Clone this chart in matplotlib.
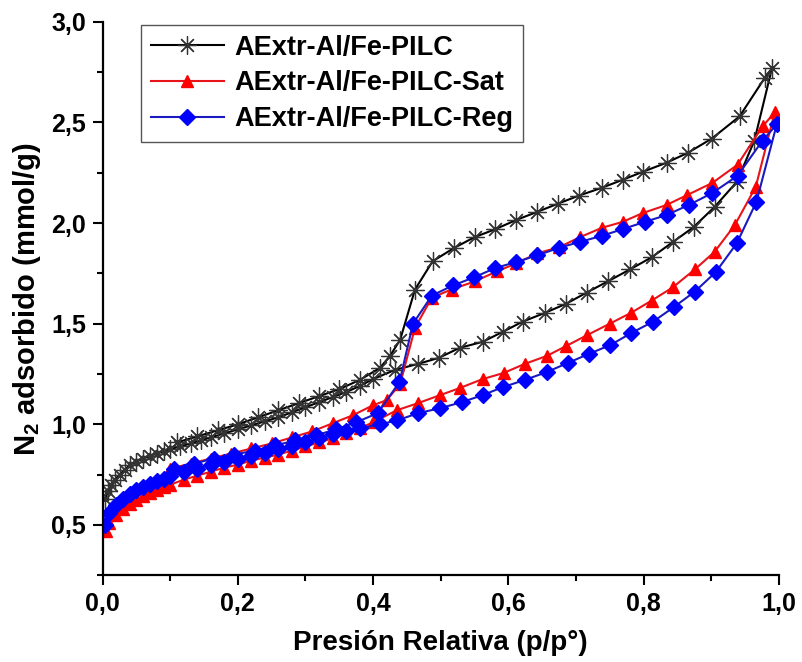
import matplotlib
matplotlib.use("Agg")
import matplotlib.pyplot as plt
from matplotlib.ticker import MultipleLocator, FuncFormatter

# --- isotermas N2: rama de adsorcion y rama de desorcion ---
p_pilc_ads = [0.004, 0.008, 0.013, 0.018, 0.025, 0.033, 0.041, 0.05, 0.06, 0.07,
              0.08, 0.09, 0.10, 0.115, 0.13, 0.145, 0.16, 0.18, 0.20, 0.22,
              0.24, 0.26, 0.28, 0.30, 0.32, 0.34, 0.36, 0.38, 0.40, 0.432,
              0.466, 0.497, 0.528, 0.562, 0.592, 0.621, 0.655, 0.686, 0.716, 0.747,
              0.780, 0.812, 0.843, 0.874, 0.905, 0.938, 0.964, 0.99]
v_pilc_ads = [0.63, 0.67, 0.70, 0.725, 0.75, 0.775, 0.80, 0.815, 0.83, 0.843,
              0.855, 0.866, 0.877, 0.89, 0.905, 0.92, 0.935, 0.955, 0.975, 0.995,
              1.015, 1.035, 1.06, 1.085, 1.11, 1.135, 1.16, 1.19, 1.225, 1.27,
              1.30, 1.33, 1.38, 1.41, 1.46, 1.51, 1.555, 1.60, 1.655, 1.71,
              1.77, 1.83, 1.905, 1.98, 2.08, 2.205, 2.41, 2.77]
p_pilc_des = [0.979, 0.942, 0.901, 0.866, 0.834, 0.799, 0.769, 0.738, 0.704, 0.673,
              0.643, 0.612, 0.581, 0.55, 0.519, 0.488, 0.462, 0.44, 0.425, 0.41,
              0.38, 0.35, 0.32, 0.29, 0.26, 0.23, 0.20, 0.17, 0.14, 0.11]
v_pilc_des = [2.72, 2.53, 2.42, 2.35, 2.30, 2.255, 2.215, 2.175, 2.136, 2.096,
              2.056, 2.016, 1.97, 1.93, 1.875, 1.81, 1.67, 1.42, 1.34, 1.28,
              1.22, 1.175, 1.14, 1.105, 1.07, 1.035, 1.0, 0.97, 0.94, 0.91]

p_sat_ads = [0.005, 0.01, 0.02, 0.03, 0.04, 0.05, 0.06, 0.07, 0.08, 0.09,
             0.10, 0.12, 0.14, 0.16, 0.18, 0.20, 0.22, 0.24, 0.26, 0.28,
             0.30, 0.32, 0.34, 0.36, 0.38, 0.40, 0.435, 0.467, 0.499, 0.528,
             0.562, 0.593, 0.624, 0.657, 0.686, 0.717, 0.75, 0.782, 0.812, 0.843,
             0.876, 0.905, 0.935, 0.966, 0.994]
v_sat_ads = [0.47, 0.51, 0.55, 0.58, 0.605, 0.625, 0.645, 0.66, 0.675, 0.69,
             0.70, 0.725, 0.745, 0.765, 0.785, 0.80, 0.82, 0.835, 0.85, 0.87,
             0.89, 0.91, 0.93, 0.955, 0.98, 1.01, 1.07, 1.106, 1.145, 1.18,
             1.225, 1.255, 1.30, 1.34, 1.39, 1.444, 1.50, 1.555, 1.615, 1.68,
             1.77, 1.857, 1.99, 2.18, 2.55]
p_sat_des = [0.976, 0.939, 0.902, 0.865, 0.834, 0.799, 0.769, 0.738, 0.706, 0.675,
             0.643, 0.612, 0.583, 0.55, 0.516, 0.487, 0.462, 0.44, 0.42, 0.40,
             0.37, 0.34, 0.31, 0.28, 0.25, 0.22, 0.19, 0.16, 0.13, 0.10]
v_sat_des = [2.48, 2.29, 2.20, 2.14, 2.09, 2.05, 2.006, 1.976, 1.93, 1.88,
             1.85, 1.80, 1.76, 1.71, 1.67, 1.63, 1.48, 1.20, 1.12, 1.095,
             1.045, 1.005, 0.965, 0.935, 0.905, 0.88, 0.855, 0.83, 0.805, 0.78]

p_reg_ads = [0.004, 0.01, 0.02, 0.03, 0.04, 0.05, 0.06, 0.07, 0.08, 0.09,
             0.10, 0.12, 0.14, 0.16, 0.18, 0.20, 0.22, 0.24, 0.26, 0.28,
             0.30, 0.32, 0.34, 0.36, 0.38, 0.41, 0.436, 0.467, 0.499, 0.531,
             0.562, 0.592, 0.624, 0.657, 0.688, 0.719, 0.751, 0.782, 0.814, 0.845,
             0.876, 0.907, 0.938, 0.967, 0.997]
v_reg_ads = [0.50, 0.56, 0.60, 0.63, 0.655, 0.675, 0.69, 0.705, 0.72, 0.73,
             0.745, 0.765, 0.78, 0.80, 0.815, 0.83, 0.845, 0.86, 0.875, 0.89,
             0.91, 0.93, 0.95, 0.965, 0.98, 1.00, 1.02, 1.056, 1.08, 1.11,
             1.145, 1.185, 1.22, 1.26, 1.305, 1.35, 1.394, 1.454, 1.51, 1.583,
             1.66, 1.757, 1.90, 2.106, 2.49]
p_reg_des = [0.976, 0.939, 0.902, 0.867, 0.834, 0.802, 0.769, 0.738, 0.706, 0.675,
             0.643, 0.612, 0.581, 0.549, 0.518, 0.487, 0.459, 0.439, 0.407, 0.375,
             0.345, 0.315, 0.285, 0.255, 0.225, 0.195, 0.165, 0.135, 0.105]
v_reg_des = [2.41, 2.235, 2.15, 2.09, 2.04, 2.006, 1.97, 1.936, 1.907, 1.877,
             1.84, 1.807, 1.777, 1.73, 1.69, 1.64, 1.50, 1.21, 1.056, 1.01,
             0.975, 0.945, 0.92, 0.895, 0.87, 0.85, 0.83, 0.805, 0.78]

etiquetas = ["AExtr-Al/Fe-PILC", "AExtr-Al/Fe-PILC-Sat", "AExtr-Al/Fe-PILC-Reg"]

plt.rcParams["font.family"] = ["Liberation Sans", "DejaVu Sans"]
plt.rcParams["font.weight"] = "bold"
plt.rcParams["mathtext.fontset"] = "custom"
plt.rcParams["mathtext.rm"] = "Liberation Sans:bold"
plt.rcParams["mathtext.default"] = "rm"

fig = plt.figure(figsize=(8.02, 6.62), dpi=100)
ax = fig.add_axes([0.128, 0.131, 0.843, 0.836])

ax.plot(p_pilc_ads + p_pilc_des, v_pilc_ads + v_pilc_des, color="black", lw=1.5,
        marker=(8, 2, 0), ms=13, mec="#333333", mew=0.9, label=etiquetas[0])
ax.plot(p_sat_ads + p_sat_des, v_sat_ads + v_sat_des, color="#e8141b", lw=1.5,
        marker="^", ms=9, mfc="#ff0000", mec="#ff0000", label=etiquetas[1])
ax.plot(p_reg_ads + p_reg_des, v_reg_ads + v_reg_des, color="#1a1ac0", lw=1.5,
        marker="D", ms=8, mfc="#0000ff", mec="#0000ff", label=etiquetas[2])

ax.set_xlim(0, 1.0)
ax.set_ylim(0.25, 3.0)
ax.xaxis.set_major_locator(MultipleLocator(0.2))
ax.xaxis.set_minor_locator(MultipleLocator(0.1))
ax.yaxis.set_major_locator(MultipleLocator(0.5))
ax.yaxis.set_minor_locator(MultipleLocator(0.25))
coma = FuncFormatter(lambda v, pos: f"{v:.1f}".replace(".", ","))
ax.xaxis.set_major_formatter(coma)
ax.yaxis.set_major_formatter(coma)

for lado in ["top", "right"]:
    ax.spines[lado].set_visible(False)
for lado in ["left", "bottom"]:
    ax.spines[lado].set_linewidth(1.6)
ax.tick_params(which="major", direction="out", length=7, width=1.5, pad=5)
ax.tick_params(which="minor", direction="out", length=4, width=1.5)
for t in ax.get_xticklabels() + ax.get_yticklabels():
    t.set_fontweight("bold")
    t.set_fontsize(18)

ax.set_xlabel("Presión Relativa (p/p°)", fontsize=20, fontweight="bold", labelpad=10)
ax.set_ylabel("N$_2$ adsorbido (mmol/g)", fontsize=21, fontweight="bold", labelpad=6)

leg = ax.legend(loc="upper left", bbox_to_anchor=(0.057, 0.994), fancybox=False,
                edgecolor="#555555", framealpha=1, handlelength=2.7, borderpad=0.35,
                labelspacing=0.36, handletextpad=0.4, borderaxespad=0,
                prop={"weight": "bold", "size": 19.5})
leg.get_frame().set_linewidth(1.0)

fig.savefig("out.png", dpi=100)
